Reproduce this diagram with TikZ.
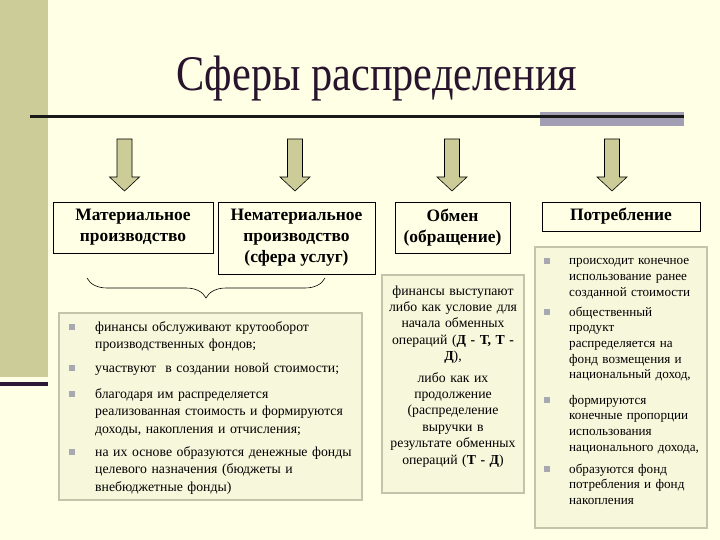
\documentclass[tikz,border=0pt]{standalone}
\usepackage{fontspec}
\setmainfont{Liberation Serif}
\newfontfamily\titlefont[FakeStretch=0.85]{Liberation Serif}
\usepackage{tikz}
\definecolor{sferabg}{RGB}{255,255,229}
\definecolor{stripeolive}{RGB}{204,204,153}
\definecolor{darkplum}{RGB}{45,25,55}
\definecolor{rulegrey}{RGB}{162,158,180}
\definecolor{titleink}{RGB}{40,20,45}
\definecolor{listfill}{RGB}{247,247,220}
\definecolor{listedge}{RGB}{196,196,170}
\definecolor{markgrey}{RGB}{168,168,176}
\usetikzlibrary{positioning, decorations.pathreplacing, calc}
\tikzset{
    sferabox/.style={draw, line width=0.8pt, fill=sferabg, align=center, inner sep=0pt,
        font=\bfseries\fontsize{17.5}{21}\selectfont},
    sferaarrow/.style={draw=black, line width=0.6pt, fill=stripeolive},
    listbox/.style={draw=listedge, line width=2pt, fill=listfill},
    proditem/.style={anchor=base west, align=left, inner sep=0pt, text width=280bp,
        font=\fontsize{13.8}{18}\selectfont},
    exchitem/.style={anchor=base, align=center, inner sep=0pt, text width=150bp,
        font=\fontsize{13.8}{16.5}\selectfont},
    consitem/.style={anchor=base west, align=left, inner sep=0pt, text width=145bp,
        font=\fontsize{13.2}{15.8}\selectfont},
    listmark/.style={fill=markgrey, minimum size=6bp, inner sep=0pt}
}
\newcommand{\sferadown}[1]{%
  \draw[sferaarrow] (#1-7.5,139) -- (#1+7.5,139) -- (#1+7.5,177) -- (#1+15,177)
    -- (#1,191) -- (#1-15,177) -- (#1-7.5,177) -- cycle;}

\begin{document}
\begin{tikzpicture}[x=1bp, y=-1bp]
  \useasboundingbox (0,0) rectangle (720,540);
  \fill[sferabg] (0,0) rectangle (720,540);
  % slide frame
  \fill[stripeolive] (0,0) rectangle (48,377);
  \fill[darkplum] (0,382) rectangle (48,386);
  \fill[rulegrey] (540,112) rectangle (684,126);
  \draw[line width=3bp, black!90] (30,117) -- (684,117);
  \node[anchor=base, inner sep=0pt, text=titleink,
    font=\titlefont\fontsize{50}{50}\selectfont] (title) at (377,91) {Сферы распределения};

  \foreach \x in {124.5, 295, 452, 612} {\sferadown{\x}}

  % the four spheres
  \node[sferabox, minimum width=160bp, minimum height=51bp]
    (matprod) at (133,227.5) {Материальное\\производство};
  \node[sferabox, minimum width=157bp, minimum height=72bp]
    (nematprod) at (296.5,238) {Нематериальное\\производство\\(сфера услуг)};
  \node[sferabox, minimum width=115bp, minimum height=51bp]
    (obmen) at (452.5,228) {Обмен\\(обращение)};
  \node[sferabox, minimum width=158bp, minimum height=29bp]
    (potreb) at (621,216.5) {Потребление};

  \coordinate (braceR) at (325,278);
  \coordinate (braceL) at (87,278);
  \draw[decorate, decoration={brace, amplitude=20bp}, line width=0.6pt] (braceR) -- (braceL);

  % lists
  \node[listbox, minimum width=303bp, minimum height=187bp] (prodlist) at (210.5,406.5) {};
  \node[listbox, minimum width=142bp, minimum height=218bp] (exchlist) at (453,384) {};
  \node[listbox, minimum width=172bp, minimum height=281bp] (conslist) at (621,387.5) {};

  \node[proditem] (prodA) at (95,331) {финансы обслуживают крутооборот\\производственных фондов;};
  \node[proditem] (prodB) at (95,372) {участвуют \ в создании новой стоимости;};
  \node[proditem] (prodC) at (95,398) {благодаря им распределяется\\реализованная стоимость и формируются\\доходы, накопления и отчисления;};
  \node[proditem] (prodD) at (95,456) {на их основе образуются денежные фонды\\целевого назначения (бюджеты и\\внебюджетные фонды)};
  \foreach \y [count=\i] in {327, 368, 394, 452}
    \node[listmark] (prodmark\i) at (72,\y) {};

  \node[exchitem] (exchA) at (453,295) {финансы выступают\\либо как условие для\\начала обменных\\операций (\textbf{Д - Т, Т -}\\\textbf{Д}),};
  \node[exchitem] (exchB) at (453,382) {либо как их\\продолжение\\(распределение\\выручки в\\результате обменных\\операций (\textbf{Т - Д})};

  \node[consitem] (consA) at (569,265) {происходит конечное\\использование ранее\\созданной стоимости};
  \node[consitem] (consB) at (569,316) {общественный\\продукт\\распределяется на\\фонд возмещения и\\национальный доход,};
  \node[consitem] (consC) at (569,404) {формируются\\конечные пропорции\\использования\\национального дохода,};
  \node[consitem] (consD) at (569,473) {образуются фонд\\потребления и фонд\\накопления};
  \foreach \y [count=\i] in {261, 312, 400, 469}
    \node[listmark] (consmark\i) at (547,\y) {};
\end{tikzpicture}
\end{document}
